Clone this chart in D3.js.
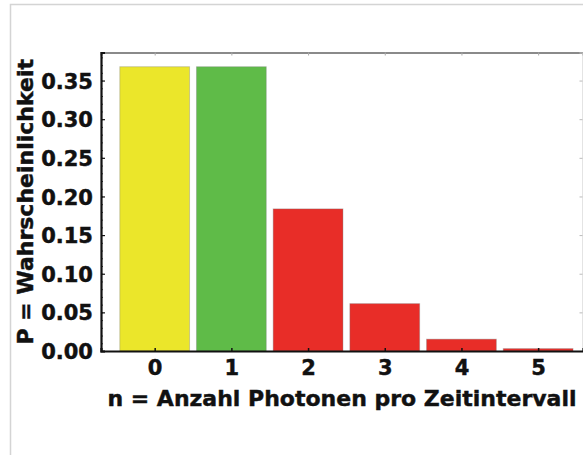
<!DOCTYPE html>
<html><head><meta charset="utf-8">
<script src="https://cdn.jsdelivr.net/npm/d3@7"></script>
<style>
html,body{margin:0;padding:0;background:#fff;}
svg{display:block;}
text{font-family:"DejaVu Sans",sans-serif;font-weight:bold;fill:#111;stroke:#111;stroke-width:0.45px;}
</style></head><body>
<svg id="c" width="583" height="455"></svg>
<script>
const categories = [0, 1, 2, 3, 4, 5];
const probabilities = [0.3679, 0.3679, 0.1839, 0.0613, 0.0153, 0.0031];
const barColors = ["#ebe62a", "#5fbb48", "#e82d28", "#e82d28", "#e82d28", "#e82d28"];
const yTicks = [0, 0.05, 0.10, 0.15, 0.20, 0.25, 0.30, 0.35];
const xLabel = "n = Anzahl Photonen pro Zeitintervall";
const yLabel = "P = Wahrscheinlichkeit";

(function () {
const svg = d3.select("#c");
const L = 101, R = 583, T = 52.5, B = 351;

// outer frame
svg.append("path").attr("d", `M10.5,455 L10.5,4.5 L583,4.5`)
  .attr("fill", "none").attr("stroke", "#d4d4d4").attr("stroke-width", 1.5);

const x = d3.scaleLinear().domain([-0.7, 5.585]).range([L, R]);
const y = d3.scaleLinear().domain([0, 0.3863]).range([B, T]);
const bw = 0.91;

// bars
svg.append("g").selectAll("rect").data(categories).join("rect")
  .attr("x", d => x(d - bw / 2))
  .attr("width", d => x(d + bw / 2) - x(d - bw / 2))
  .attr("y", (d, i) => y(probabilities[i]))
  .attr("height", (d, i) => y(0) - y(probabilities[i]))
  .attr("fill", (d, i) => barColors[i])
  .attr("stroke", "rgba(120,120,120,0.35)").attr("stroke-width", 1);

// top and right axes (light)
const topAx = svg.append("g").attr("transform", `translate(0,${T})`)
  .call(d3.axisTop(x).tickValues(categories).tickSize(-3).tickFormat(""));
topAx.select(".domain").attr("stroke", "#8a8a8a").attr("stroke-width", 2);
topAx.selectAll(".tick line").attr("stroke", "#aaa");

const rightAx = svg.append("g").attr("transform", `translate(${R - 0.5},0)`)
  .call(d3.axisRight(y).tickValues(yTicks).tickSize(-3).tickFormat(""));
rightAx.select(".domain").attr("stroke", "#c8c8c8").attr("stroke-width", 1);
rightAx.selectAll(".tick line").attr("stroke", "#bbb");

// left minor ticks
const minor = d3.range(0, 0.381, 0.01);
svg.append("g").attr("transform", `translate(${L},0)`)
  .call(d3.axisLeft(y).tickValues(minor).tickSize(-2).tickFormat(""))
  .call(g => g.select(".domain").remove())
  .selectAll(".tick line").attr("stroke", "#444");

// left axis
const leftAx = svg.append("g").attr("transform", `translate(${L},0)`)
  .call(d3.axisLeft(y).tickValues(yTicks).tickSize(-4).tickPadding(8).tickFormat(d3.format(".2f")));
leftAx.select(".domain").attr("stroke", "#111").attr("stroke-width", 2.2);
leftAx.selectAll(".tick line").attr("stroke", "#111").attr("stroke-width", 1.2);
leftAx.selectAll(".tick text").style("font-size", "21px").attr("fill", "#111").attr("dy", "0.36em");

// bottom axis
const bottomAx = svg.append("g").attr("transform", `translate(0,${B})`)
  .call(d3.axisBottom(x).tickValues(categories).tickSize(-3).tickPadding(9).tickFormat(d3.format("d")));
bottomAx.select(".domain").attr("stroke", "#111").attr("stroke-width", 2.2);
bottomAx.selectAll(".tick line").attr("stroke", "#111").attr("stroke-width", 1.5);
bottomAx.selectAll(".tick text").style("font-size", "21px").attr("fill", "#111");

// axis labels
svg.append("text").attr("x", (L + R) / 2).attr("y", 406)
  .attr("text-anchor", "middle").style("font-size", "22px").text(xLabel);
svg.append("text").attr("transform", `translate(33,${(T + B) / 2}) rotate(-90)`)
  .attr("text-anchor", "middle").style("font-size", "22px").text(yLabel);
})();
</script>
</body></html>
